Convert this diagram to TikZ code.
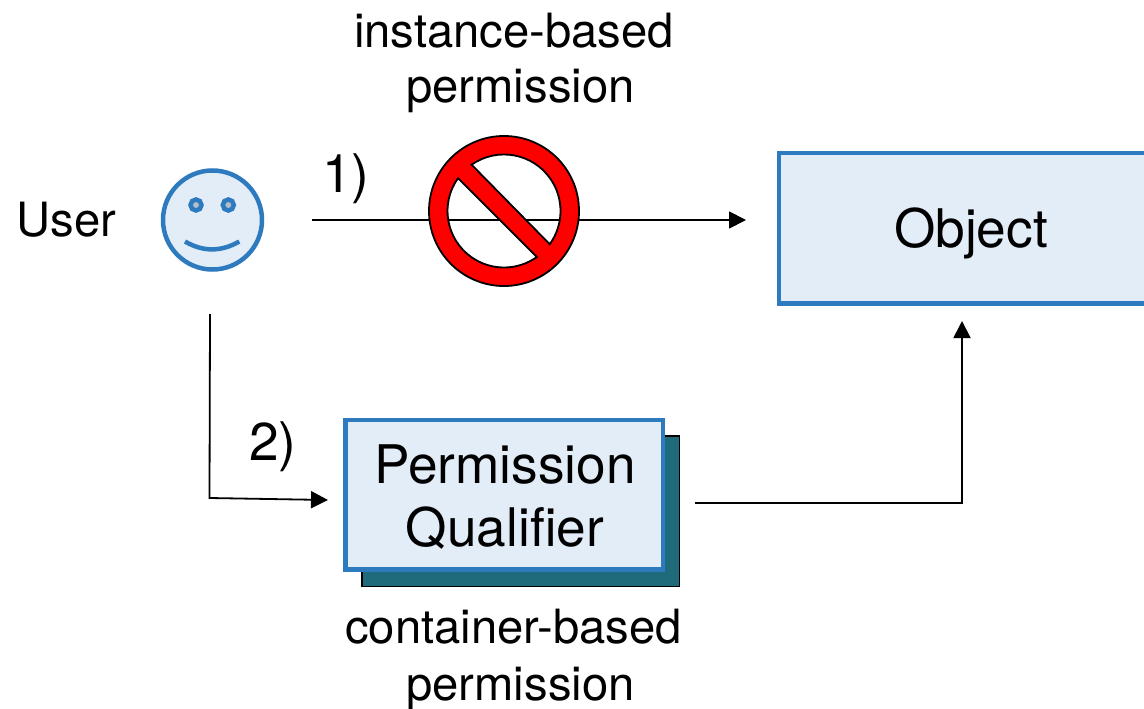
\documentclass[tikz,border=0pt]{standalone}
\usepackage{fontspec}
\setmainfont{TeX Gyre Heros}
\usetikzlibrary{arrows.meta,calc}
\definecolor{boxblue}{HTML}{2E7ABF}
\definecolor{boxfill}{HTML}{E3EDF7}
\definecolor{teal2}{HTML}{1F6B7B}
\definecolor{eyegrey}{HTML}{B2BEC8}
\tikzset{
  x=0.5pt,y=0.5pt,
  bluebox/.style={draw=boxblue,fill=boxfill,line width=2.25pt,rectangle,inner sep=0pt,outer sep=0pt,text=black},
  shadowbox/.style={draw=black,fill=teal2,line width=0.75pt,rectangle,inner sep=0pt,outer sep=0pt},
  conn/.style={draw=black,line width=0.9pt,-{Triangle[length=8.5pt,width=8.5pt]}},
  smalltxt/.style={font=\fontsize{23.6}{28}\selectfont,anchor=base,inner sep=0pt},
  bigtxt/.style={font=\fontsize{26.6}{31.5}\selectfont,anchor=base,inner sep=0pt},
  facepart/.style={draw=boxblue,line width=2.25pt},
}
\begin{document}
\begin{tikzpicture}
\useasboundingbox (0,0) rectangle (1144,708);
\clip (0,0) rectangle (1144,708);
% text labels
\node[smalltxt] (lab1a) at (514,660) {instance-based};
\node[smalltxt] (lab1b) at (520.5,605) {permission};
\node[smalltxt] (lab2a) at (513.5,65) {container-based};
\node[smalltxt] (lab2b) at (520.5,8) {permission};
\node[smalltxt] (user) at (66.5,472) {User};
\node[bigtxt] (one) at (346,516) {1)};
\node[bigtxt] (two) at (273,248) {2)};
% face
\node[circle,draw=boxblue,fill=boxfill,line width=2.25pt,minimum size=49.5pt,inner sep=0pt,outer sep=0pt] (smiley) at (212.5,488) {};
\draw[facepart,fill=eyegrey] (196,503) circle (5.5);
\draw[facepart,fill=eyegrey] (228.3,503) circle (5.5);
\draw[facepart] (185,466.5) .. controls (203,456) and (221,456) .. (239.3,466.5);
% object
\node[bluebox,minimum width=192pt,minimum height=75.25pt] (object) at (971,479.75) {};
\node[bigtxt] (objtxt) at (971,460) {Object};
% permission qualifier
\node[shadowbox,minimum width=158.75pt,minimum height=75.25pt] (shadow) at (520.5,197) {};
\node[bluebox,minimum width=158.75pt,minimum height=74.75pt] (pq) at (504.25,213.25) {};
\node[bigtxt] (pqa) at (505,225) {Permission};
\node[bigtxt] (pqb) at (505,161.5) {Qualifier};
% connectors
\coordinate (s1) at (312,488);
\coordinate (e1) at (746,488);
\draw[conn] (s1) -- (e1);
\coordinate (s2) at (210,394);
\coordinate (k2) at (209.5,210);
\coordinate (e2) at (328,208);
\draw[conn] (s2) -- (k2) -- (e2);
\coordinate (s3) at (695,205);
\coordinate (k3) at (962,205);
\coordinate (e3) at (962,387);
\draw[conn] (s3) -- (k3) -- (e3);
% prohibition sign
\coordinate (ban) at (504,497);
\fill[red,even odd rule,draw=black,line width=0.9pt]
  (ban) circle (75)
  ($(ban)+(125:56.5)$) arc (125:-36:56.5) -- cycle
  ($(ban)+(144.4:56.5)$) arc (144.4:305.6:56.5) -- cycle;
\end{tikzpicture}
\end{document}
